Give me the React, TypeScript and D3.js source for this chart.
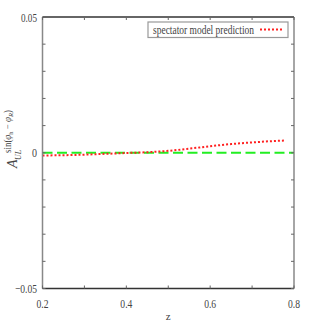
import React from "react";
import * as d3 from "d3";

const zValues = [0.2, 0.25, 0.3, 0.35, 0.4, 0.45, 0.5, 0.55, 0.6, 0.65, 0.7, 0.75, 0.78];
const asymValues = [-0.001, -0.0009, -0.0007, -0.0004, -0.0001, 0.0002, 0.0007, 0.0015, 0.0024, 0.0032, 0.0038, 0.0043, 0.0045];
const zeroLine = [0, 0];
const zeroLineX = [0.2, 0.8];
const xTickLabels = [0.2, 0.4, 0.6, 0.8];
const xMinorTicks = [0.2, 0.3, 0.4, 0.5, 0.6, 0.7, 0.8];
const yTickLabels = [-0.05, 0, 0.05];
const yMinorTicks = [-0.05, -0.04, -0.03, -0.02, -0.01, 0, 0.01, 0.02, 0.03, 0.04, 0.05];
const legendLabel = "spectator model prediction";

const W = 311, H = 327;
const L = 42.5, R = 294, T = 17, B = 288.5;

export default function App() {
  const x = d3.scaleLinear().domain([0.2, 0.8]).range([L, R]);
  const y = d3.scaleLinear().domain([-0.05, 0.05]).range([B, T]);
  const line = d3.line<[number, number]>().x(d => x(d[0])).y(d => y(d[1])).curve(d3.curveMonotoneX);
  const red = line(zValues.map((z, i) => [z, asymValues[i]] as [number, number])) || "";
  const green = line(zeroLineX.map((z, i) => [z, zeroLine[i]] as [number, number])) || "";
  const fmt = (v: number) => (v === 0 ? "0" : v < 0 ? "\u2212" + Math.abs(v).toFixed(2) : v.toFixed(2));
  const font = "'Liberation Serif', serif";
  return (
    <svg width={W} height={H} style={{ position: "absolute", left: 0, top: 0 }}>
      <rect width={W} height={H} fill="#fff" />
      <path d={green} stroke="#22ee22" strokeWidth={2} fill="none" strokeDasharray="10,4.5" />
      <path d={red} stroke="#ff2020" strokeWidth={2} fill="none" strokeDasharray="2,2" />
      {/* frame */}
      <line x1={L} x2={L} y1={T} y2={B} stroke="#888" strokeWidth={1.5} />
      <line x1={R} x2={R} y1={T} y2={B} stroke="#888" strokeWidth={1.5} />
      <line x1={L} x2={R} y1={T} y2={T} stroke="#333" strokeWidth={1.5} />
      <line x1={L} x2={R} y1={B} y2={B} stroke="#333" strokeWidth={1.5} />
      {xMinorTicks.map(v => (
        <g key={"xt" + v}>
          <line x1={x(v)} x2={x(v)} y1={B} y2={B - 3} stroke="#666" />
          <line x1={x(v)} x2={x(v)} y1={T} y2={T + 3} stroke="#666" />
        </g>
      ))}
      {yMinorTicks.map(v => (
        <g key={"yt" + v}>
          <line x1={L} x2={L + 3} y1={y(v)} y2={y(v)} stroke="#666" />
          <line x1={R} x2={R - 3} y1={y(v)} y2={y(v)} stroke="#666" />
        </g>
      ))}
      {xTickLabels.map(v => (
        <text key={"xl" + v} x={x(v)} y={307.5} textAnchor="middle" fontFamily={font} fontSize={13} fill="#444"
          textLength={12} lengthAdjust="spacingAndGlyphs">{v.toFixed(1)}</text>
      ))}
      {yTickLabels.map(v => {
        const s = fmt(v);
        const len = s.length === 1 ? 5 : s.length === 4 ? 16 : 22;
        return (
          <text key={"yl" + v} x={37} y={y(v) + 4.5} textAnchor="end" fontFamily={font} fontSize={13} fill="#444"
            textLength={len} lengthAdjust="spacingAndGlyphs">{s}</text>
        );
      })}
      <text x={(L + R) / 2} y={320} textAnchor="middle" fontFamily={font} fontSize={11} fill="#444">z</text>
      <g transform="translate(17,142) rotate(-90)" fontFamily={font} fill="#444">
        <text x={-26} y={0} fontSize={14} fontStyle="italic">A</text>
        <text x={-18} y={4} fontSize={8.5} fontStyle="italic" textLength={10} lengthAdjust="spacingAndGlyphs">UL</text>
        <text x={-11} y={-6} fontSize={9.5} textLength={43} lengthAdjust="spacingAndGlyphs">
          <tspan>sin(</tspan>
          <tspan fontStyle="italic">φ</tspan>
          <tspan fontSize={7} dy={2}>h</tspan>
          <tspan dy={-2}> − </tspan>
          <tspan fontStyle="italic">φ</tspan>
          <tspan fontSize={7} fontStyle="italic" dy={2}>R</tspan>
          <tspan dy={-2}>)</tspan>
        </text>
      </g>
      {/* legend */}
      <rect x={148} y={22} width={140} height={15.5} fill="#fff" stroke="#999" strokeWidth={1.2} />
      <text x={153} y={33.5} fontFamily={font} fontSize={12} fill="#444" textLength={101} lengthAdjust="spacingAndGlyphs">{legendLabel}</text>
      <line x1={260} x2={283} y1={29.5} y2={29.5} stroke="#ff2020" strokeWidth={2} strokeDasharray="2,2" />
    </svg>
  );
}
